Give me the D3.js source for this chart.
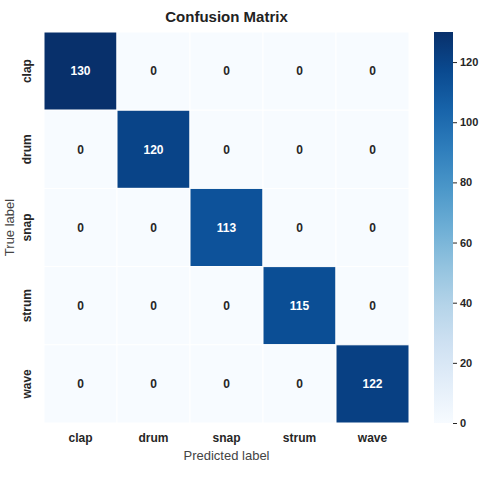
<!DOCTYPE html>
<html><head><meta charset="utf-8">
<script src="https://cdn.jsdelivr.net/npm/d3@7"></script>
<style>body{margin:0;background:#fff;font-family:"Liberation Sans",Arial,sans-serif}</style>
</head><body><div id="chart"></div>
<script>
// data
const labels = ["clap","drum","snap","strum","wave"];
const matrix = [
  [130,0,0,0,0],
  [0,120,0,0,0],
  [0,0,113,0,0],
  [0,0,0,115,0],
  [0,0,0,0,122]
];
const cbTicks = [0,20,40,60,80,100,120];

var W = 491, H = 480;
var gLeft = 44, gTop = 32, gw = 365, gh = 391;
const svg = d3.select("#chart").append("svg").attr("width", W).attr("height", H);

var x = d3.scaleBand().domain(labels).range([gLeft, gLeft+gw]);
var y = d3.scaleBand().domain(labels).range([gTop, gTop+gh]);
var color = d3.scaleSequential(d3.interpolateBlues).domain([0,130]);

var cells = [];
matrix.forEach(function(row,i){ row.forEach(function(v,j){ cells.push({r:labels[i],c:labels[j],v:v}); }); });

svg.append("g").selectAll("rect").data(cells).enter().append("rect")
  .attr("x", d => x(d.c)).attr("y", d => y(d.r))
  .attr("width", x.bandwidth()).attr("height", y.bandwidth())
  .attr("fill", d => color(d.v)).attr("stroke","#fff").attr("stroke-width",1);

svg.append("g").selectAll("text").data(cells).enter().append("text")
  .attr("x", d => x(d.c)+x.bandwidth()/2).attr("y", d => y(d.r)+y.bandwidth()/2)
  .attr("dy","0.35em").attr("text-anchor","middle")
  .attr("font-size",12).attr("font-weight","bold")
  .attr("fill", d => d.v > 65 ? "#fff" : "#262626")
  .text(d => d.v);

// axis labels
svg.append("g").selectAll("text").data(labels).enter().append("text")
  .attr("x", d => x(d)+x.bandwidth()/2).attr("y", gTop+gh+19)
  .attr("text-anchor","middle").attr("font-size",12).attr("font-weight","bold").attr("fill","#262626")
  .text(d => d);
svg.append("g").selectAll("text").data(labels).enter().append("text")
  .attr("transform", d => "translate(31,"+(y(d)+y.bandwidth()/2)+") rotate(-90)")
  .attr("text-anchor","middle").attr("font-size",12).attr("font-weight","bold").attr("fill","#262626")
  .text(d => d);

svg.append("text").attr("x", gLeft+gw/2).attr("y", gTop+gh+37).attr("text-anchor","middle")
  .attr("font-size",13).attr("fill","#444").text("Predicted label");
svg.append("text").attr("transform","translate(14,"+(gTop+gh/2)+") rotate(-90)").attr("text-anchor","middle")
  .attr("font-size",13).attr("fill","#444").text("True label");
svg.append("text").attr("x", gLeft+gw/2).attr("y", 22).attr("text-anchor","middle")
  .attr("font-size",15).attr("font-weight","bold").attr("fill","#222").text("Confusion Matrix");

// colorbar
var cbx = 434, cbw = 19;
var cy = d3.scaleLinear().domain([0,130]).range([gTop+gh, gTop]);
var defs = svg.append("defs");
var grad = defs.append("linearGradient").attr("id","cb").attr("x1",0).attr("y1",1).attr("x2",0).attr("y2",0);
d3.range(0,1.01,0.1).forEach(function(t){ grad.append("stop").attr("offset",t).attr("stop-color",color(t*130)); });
svg.append("rect").attr("x",cbx).attr("y",gTop).attr("width",cbw).attr("height",gh).attr("fill","url(#cb)");
var cax = svg.append("g").attr("transform","translate("+(cbx+cbw)+",0)")
  .call(d3.axisRight(cy).tickValues(cbTicks).tickSize(4).tickPadding(3));
cax.select(".domain").remove();
cax.selectAll("text").attr("font-size",11).attr("font-weight","bold").attr("fill","#262626").attr("font-family","Liberation Sans, Arial");
cax.selectAll("line").attr("stroke","#262626");
</script></body></html>
